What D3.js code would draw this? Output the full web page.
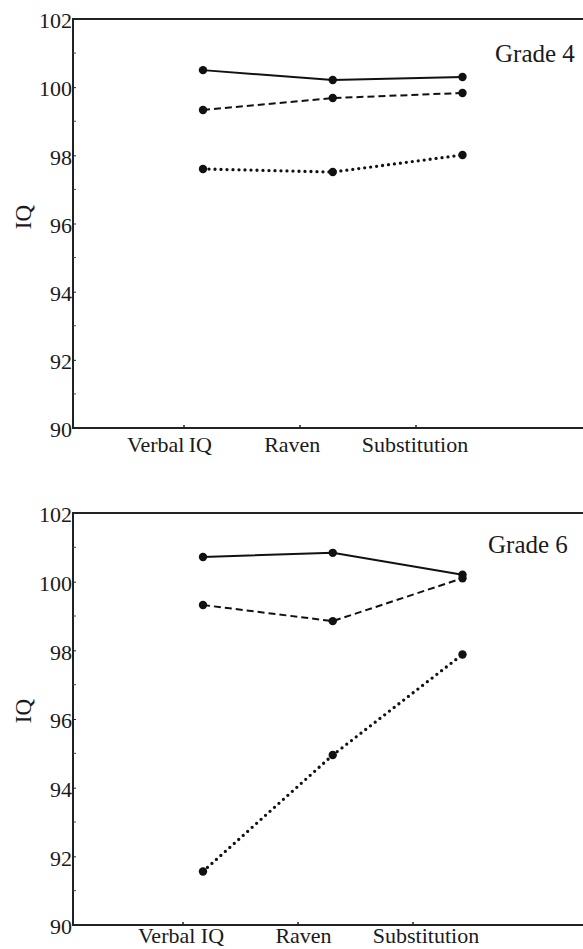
<!DOCTYPE html>
<html>
<head>
<meta charset="utf-8">
<script src="https://cdn.jsdelivr.net/npm/d3@7"></script>
<style>
  html, body { margin: 0; padding: 0; background: #fff; }
  svg { display: block; }
  svg text { font-family: 'Liberation Serif', 'Times New Roman', 'DejaVu Serif', serif !important; fill: #1a1a1a; }
</style>
</head>
<body>
<svg id="chart" width="583" height="949" font-family="'Liberation Serif', serif"></svg>
<script>
// ---- data ----
const measures = ["Verbal IQ", "Raven", "Substitution"];
const yTicks = [90, 92, 94, 96, 98, 100, 102];
const minorTicks = [91, 93, 95, 97, 99, 101];
const grades = ["Grade 4", "Grade 6"];
const axisLabelsTop = ["Verbal\u2009IQ", "Raven", "Substitution"];
const axisLabelsBottom = ["Verbal IQ", "Raven", "Substitution"];
const seriesStyles = ["solid", "dashed", "dotted"];

const grade4Solid  = [100.5, 100.21, 100.3];
const grade4Dashed = [99.33, 99.68, 99.83];
const grade4Dotted = [97.6, 97.51, 98.01];

const grade6Solid  = [100.72, 100.84, 100.2];
const grade6Dashed = [99.32, 98.85, 100.1];
const grade6Dotted = [91.56, 94.95, 97.88];

// ---- layout ----
const svg = d3.select("#chart");
const left = 73, right = 590;
const panels = [
  { grade: grades[0], labels: axisLabelsTop, series: [grade4Solid, grade4Dashed, grade4Dotted],
    top: 19, bottom: 428, labelRange: [169.5, 415], labelBase: 452, tickRange: [184, 416],
    gradeX: 495, gradeY: 62 },
  { grade: grades[1], labels: axisLabelsBottom, series: [grade6Solid, grade6Dashed, grade6Dotted],
    top: 513, bottom: 925, labelRange: [181, 426], labelBase: 943, tickRange: [183, 413],
    gradeX: 488, gradeY: 553 }
];

const dashMap = { solid: null, dashed: "7,4", dotted: "0,6" };
const widthMap = { solid: 2, dashed: 2, dotted: 3.3 };
const serif = "'Liberation Serif', 'Times New Roman', serif";

panels.forEach(p => {
  const g = svg.append("g");
  const y = d3.scaleLinear().domain([90, 102]).range([p.bottom, p.top]);
  const x = d3.scalePoint().domain(measures).range([203, 462.5]);
  const xl = d3.scalePoint().domain(measures).range(p.labelRange);
  const xt = d3.scalePoint().domain(measures).range(p.tickRange);

  // frame: top, left, bottom
  g.append("line").attr("x1", left).attr("x2", right).attr("y1", p.top).attr("y2", p.top)
    .attr("stroke", "#222").attr("stroke-width", 2);
  g.append("line").attr("x1", left).attr("x2", left).attr("y1", p.top - 1).attr("y2", p.bottom + 1)
    .attr("stroke", "#222").attr("stroke-width", 2);
  g.append("line").attr("x1", left).attr("x2", right).attr("y1", p.bottom).attr("y2", p.bottom)
    .attr("stroke", "#222").attr("stroke-width", 2);

  // y axis via d3.axisLeft
  const yAxis = d3.axisLeft(y).tickValues(yTicks).tickSize(3).tickFormat(d3.format("d"));
  const ya = g.append("g").attr("transform", `translate(${left},0)`).call(yAxis)
    .attr("font-family", serif).attr("font-size", 22);
  ya.select(".domain").remove();
  ya.selectAll(".tick line").attr("stroke", "#222").attr("x2", 3).attr("x1", 0);
  ya.selectAll(".tick text").attr("x", -1).attr("dy", "0.4em")
    .attr("font-family", serif).attr("fill", "#1a1a1a");

  // minor ticks
  g.selectAll(".minor").data(minorTicks).enter().append("line")
    .attr("x1", left).attr("x2", left + 3)
    .attr("y1", d => y(d)).attr("y2", d => y(d))
    .attr("stroke", "#444").attr("stroke-width", 1);

  // x ticks (small, inward)
  g.selectAll(".xt").data(measures).enter().append("line")
    .attr("x1", d => xt(d)).attr("x2", d => xt(d))
    .attr("y1", p.bottom).attr("y2", p.bottom - 3)
    .attr("stroke", "#222").attr("stroke-width", 1.5);

  // x labels
  g.selectAll(".xl").data(measures).enter().append("text")
    .attr("x", d => xl(d)).attr("y", p.labelBase)
    .attr("text-anchor", "middle")
    .attr("font-family", serif)
    .attr("font-size", 22)
    .text((d, i) => p.labels[i]);

  // y title
  g.append("text")
    .attr("transform", `translate(31,${p.top + 198}) rotate(-90)`)
    .attr("text-anchor", "middle")
    .attr("font-family", serif)
    .attr("font-size", 23)
    .text("IQ");

  // grade label
  g.append("text").attr("x", p.gradeX).attr("y", p.gradeY)
    .attr("font-family", serif)
    .attr("font-size", 25).text(p.grade);

  // series
  const line = d3.line().x((d, i) => x(measures[i])).y(d => y(d));
  p.series.forEach((vals, si) => {
    const style = seriesStyles[si];
    g.append("path").datum(vals)
      .attr("d", line)
      .attr("fill", "none")
      .attr("stroke", "#111")
      .attr("stroke-width", widthMap[style])
      .attr("stroke-linecap", style === "dotted" ? "round" : "butt")
      .attr("stroke-dasharray", dashMap[style]);
    g.selectAll(null).data(vals).enter().append("circle")
      .attr("cx", (d, i) => x(measures[i]))
      .attr("cy", d => y(d))
      .attr("r", 4.2)
      .attr("fill", "#111");
  });
});
</script>
</body>
</html>
